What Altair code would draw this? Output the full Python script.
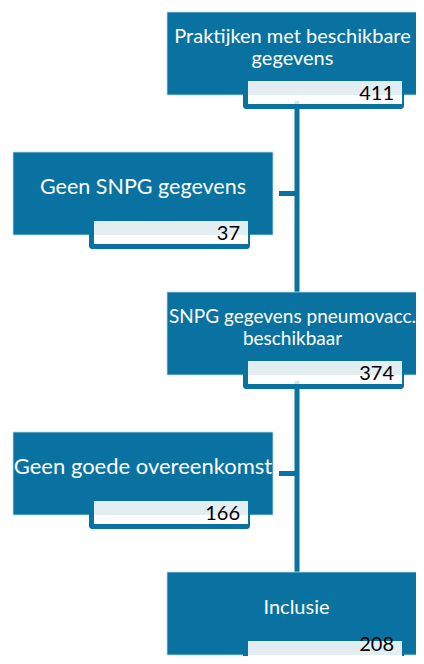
import altair as alt
import pandas as pd

# ---- data ----
labels = [
    ["Praktijken met beschikbare", "gegevens"],
    ["Geen SNPG gegevens"],
    ["SNPG gegevens pneumovacc.", "beschikbaar"],
    ["Geen goede overeenkomst"],
    ["Inclusie"],
]
counts = [411, 37, 374, 166, 208]
columns = ["main", "side", "main", "side", "main"]

# ---- layout / style ----
BLUE = "#0A72A0"
LIGHT = "#E3EEF3"
TOP0, STEP, BOX_H = 12, 140, 83
LEFT = {"main": 167, "side": 13}
RIGHT = {"main": 432, "side": 273}
CENTER_MULTI = {"main": 292.5, "side": 143}
CENTER_SINGLE = {"main": 296.5, "side": 143}
FONT_SIZES = [20, 21.5, 19, 22, 20]
LINE_X = 297

W, H = 408, 648  # page = 8px margin + chart, fits the 424x664 window exactly
BOTTOM = 8 + H

boxes, nums, texts, hconn = [], [], [], []
for i, (lab, cnt, col) in enumerate(zip(labels, counts, columns)):
    top = TOP0 + STEP * i
    left = LEFT[col]
    boxes.append(dict(x=left, x2=RIGHT[col], y=top, y2=top + BOX_H))
    nums.append(dict(
        ox=left + 76, ox2=left + 237, oy=top + 69, oy2=top + 97,
        ix=left + 81, ix2=left + 235, iy=top + 69, iy2=top + 92, ly2=top + 83,
        tx=left + 227, ty=min(top + 88, BOTTOM - 5), t=str(cnt),
    ))
    if len(lab) == 1:
        texts.append(dict(x=CENTER_SINGLE[col], y=top + 42, t=lab[0], fs=FONT_SIZES[i]))
    else:
        texts.append(dict(x=CENTER_MULTI[col], y=top + 31, t=lab[0], fs=FONT_SIZES[i]))
        texts.append(dict(x=CENTER_MULTI[col], y=top + 53, t=lab[1], fs=FONT_SIZES[i]))
    if col == "side":
        hconn.append(dict(x=RIGHT[col] + 6, x2=LINE_X, y=top + 39, y2=top + 44))

boxes = pd.DataFrame(boxes)
nums = pd.DataFrame(nums)
texts = pd.DataFrame(texts)
hconn = pd.DataFrame(hconn)
vline = pd.DataFrame([dict(x=LINE_X - 2.5, x2=LINE_X + 2.5,
                           y=TOP0 + BOX_H, y2=TOP0 + STEP * 4)])
stubs = pd.DataFrame([dict(x=LINE_X - 2.5, x2=LINE_X + 2.5,
                           y=TOP0 + STEP * k + 89, y2=TOP0 + STEP * k + 92) for k in (0, 2)])

xs = alt.Scale(domain=[8, 8 + W], nice=False, zero=False)
ys = alt.Scale(domain=[8, 8 + H], nice=False, zero=False, reverse=True)


def rect(df, x, x2, y, y2, **kw):
    return alt.Chart(df).mark_rect(clip=True, **kw).encode(
        x=alt.X(f"{x}:Q", scale=xs, axis=None),
        x2=f"{x2}:Q",
        y=alt.Y(f"{y}:Q", scale=ys, axis=None),
        y2=f"{y2}:Q",
    )


layers = [
    rect(vline, "x", "x2", "y", "y2", color=BLUE),
    rect(hconn, "x", "x2", "y", "y2", color=BLUE),
    rect(boxes, "x", "x2", "y", "y2", color=BLUE, stroke="#BFD9E5", strokeWidth=0.8),
    rect(nums, "ox", "ox2", "oy", "oy2", color=BLUE, cornerRadius=3),
    rect(nums, "ix", "ix2", "iy", "iy2", color="white"),
    rect(nums, "ix", "ix2", "iy", "ly2", color=LIGHT),
    rect(stubs, "x", "x2", "y", "y2", color="#D5E2EA"),
    alt.Chart(texts).mark_text(align="center", baseline="alphabetic", font="Lato",
                               color="white", clip=True).encode(
        x=alt.X("x:Q", scale=xs, axis=None),
        y=alt.Y("y:Q", scale=ys, axis=None),
        text="t:N",
        size=alt.Size("fs:Q", scale=None, legend=None),
    ),
    alt.Chart(nums).mark_text(align="right", baseline="alphabetic", font="Lato",
                              fontSize=20, color="black", clip=True).encode(
        x=alt.X("tx:Q", scale=xs, axis=None),
        y=alt.Y("ty:Q", scale=ys, axis=None),
        text="t:N",
    ),
]

chart = alt.layer(*layers).properties(
    width=W, height=H, padding=0, autosize=alt.AutoSizeParams(type="none")
).configure_view(stroke=None)

chart.save("out.html", embed_options={"renderer": "svg", "actions": False})
